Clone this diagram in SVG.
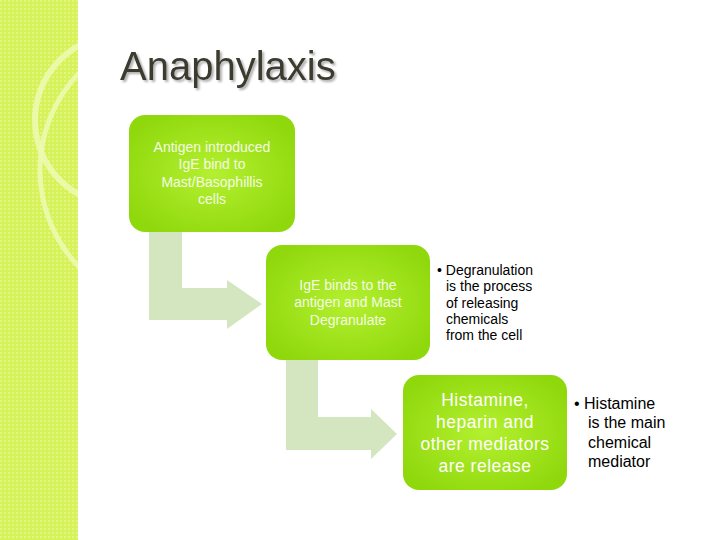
<svg xmlns="http://www.w3.org/2000/svg" width="720" height="540" viewBox="0 0 720 540">
<defs>
<radialGradient id="g" cx="50%" cy="50%" r="60%"><stop offset="0" stop-color="#b4f030"/><stop offset="1" stop-color="#8fd80c"/></radialGradient>
<pattern id="p" width="4" height="4" patternUnits="userSpaceOnUse"><rect width="4" height="4" fill="#d6f25a"/><rect width="2" height="2" fill="#e2f77e"/></pattern>
<filter id="sh" x="-5%" y="-20%" width="110%" height="140%"><feDropShadow dx="2" dy="2" stdDeviation="0.8" flood-color="#999" flood-opacity="0.8"/></filter>
</defs>
<style>
.box{fill:url(#g)}
.arr{fill:#d3e6c0}
.t{font-family:"Liberation Sans",Arial,sans-serif;text-anchor:middle}
.w{fill:#f4fbe4;font-size:14px}
.b{fill:#ffffff;font-size:17.5px;letter-spacing:0.5px}
.k{fill:#000;font-family:"Liberation Sans",Arial,sans-serif;font-size:14px}
</style>
<rect width="720" height="540" fill="#fff"/>
<rect width="78" height="540" fill="url(#p)"/>
<circle cx="180" cy="170" r="140" fill="none" stroke="#eefab8" stroke-width="5" opacity="0.8"/>
<circle cx="120" cy="120" r="85" fill="none" stroke="#eefab8" stroke-width="6" opacity="0.8"/>
<rect x="78" y="0" width="642" height="540" fill="#fff"/>
<text x="120" y="80" font-family="Liberation Sans,Arial,sans-serif" font-size="40" fill="#3b3a2f" filter="url(#sh)">Anaphylaxis</text>
<g id="connectors">
<path class="arr" d="M149 232H182V288H227V280L262 304L227 329V320H149Z"/>
<path class="arr" d="M286 360H318V417H371V409L397 434L371 459V450H286Z"/>
</g>
<g id="n1"><rect class="box" x="129" y="115" width="166" height="117" rx="16"/>
<text class="t w" x="212" y="152">Antigen introduced</text><text class="t w" x="212" y="169">IgE bind to</text><text class="t w" x="212" y="187">Mast/Basophillis</text><text class="t w" x="212" y="204">cells</text></g>
<g id="n2"><rect class="box" x="266" y="245" width="164" height="115" rx="16"/>
<text class="t w" x="348" y="290">IgE binds to the</text><text class="t w" x="348" y="307">antigen and Mast</text><text class="t w" x="348" y="325">Degranulate</text></g>
<g id="n2note"><text class="k" x="437" y="275">• Degranulation</text><text class="k" x="446" y="291">is the process</text><text class="k" x="446" y="308">of releasing</text><text class="k" x="446" y="324">chemicals</text><text class="k" x="446" y="340">from the cell</text></g>
<g id="n3"><rect class="box" x="403" y="375" width="164" height="115" rx="16"/>
<text class="t b" x="485" y="406">Histamine,</text><text class="t b" x="485" y="428">heparin and</text><text class="t b" x="485" y="450">other mediators</text><text class="t b" x="485" y="472">are release</text></g>
<g id="n3note"><text class="k" style="font-size:16px" x="574" y="409">•  Histamine</text><text class="k" style="font-size:16px" x="588" y="428">is the main</text><text class="k" style="font-size:16px" x="588" y="448">chemical</text><text class="k" style="font-size:16px" x="588" y="467">mediator</text></g>
</svg>
